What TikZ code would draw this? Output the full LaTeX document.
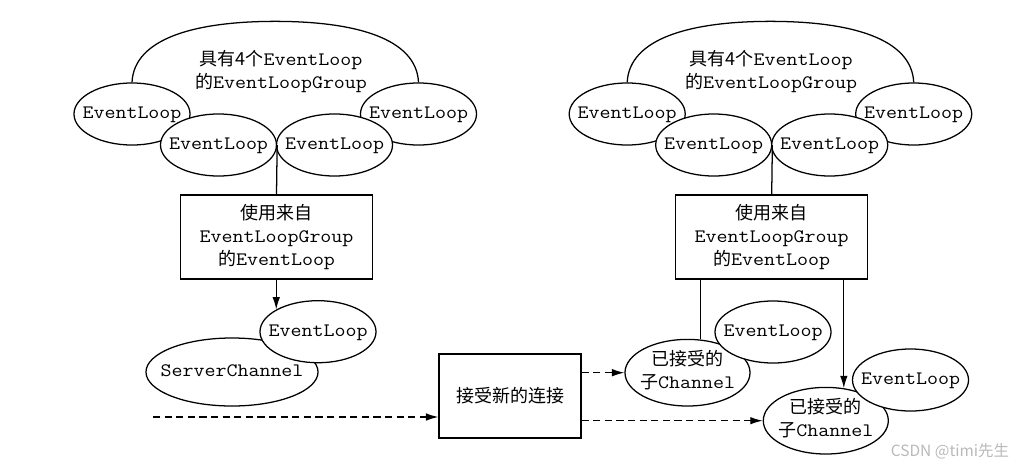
\documentclass[tikz,border=0pt]{standalone}
\usepackage{fontspec}
\newfontfamily\cjk{Noto Sans CJK SC}
\newfontfamily\elmono[FakeStretch=1.125]{Latin Modern Mono}
\usetikzlibrary{positioning,arrows.meta,calc,shapes.geometric}
\newcommand{\zh}[1]{{\cjk\fontsize{12.8}{16.4}\selectfont #1}}
\newcommand{\ctr}[1]{\makebox[0pt]{\begin{tabular}{@{}c@{}}#1\end{tabular}}}

\begin{document}
\begin{tikzpicture}[
                x=0.025cm, y=-0.025cm,
                every node/.style={font=\elmono\fontsize{13.5}{16.4}\selectfont, inner sep=0pt},
                evloop/.style={
                    ellipse,
                    draw,
                    fill=white,
                    line width=0.9pt,
                    minimum width=2.9cm,
                    minimum height=1.55cm
                },
                chan/.style={evloop, minimum width=3.125cm, minimum height=1.665cm},
                box/.style={
                    draw,
                    line width=0.9pt,
                    minimum width=4.8cm,
                    minimum height=2.1cm,
                    align=center
                },
                line/.style={line width=0.9pt},
                arrow/.style={-{Latex[length=3.1mm,width=1.9mm]}, line width=0.9pt},
                dasharrow/.style={arrow, dash pattern=on 1.8mm off 1.1mm}
            ]
                \useasboundingbox (0,0) rectangle (1023,467);

                % left side
                \node[evloop] (l1) at (132,114) {\ctr{EventLoop}};
                \node[evloop] (l4) at (418.5,114) {\ctr{EventLoop}};
                \node[evloop] (l2) at (218.5,145) {\ctr{EventLoop}};
                \node[evloop] (l3) at (334.5,145) {\ctr{EventLoop}};
                \draw[line] (l1.north) .. controls +(2,-44) and +(-80,0) .. ($(l1.north)!0.5!(l4.north)+(0,-61)$)
                    .. controls +(80,0) and +(-2,-44) .. (l4.north);
                \node[align=center] (lgrp) at (281,72) {\zh{具有4个}EventLoop\\\zh{的}EventLoopGroup};
                \node[box] (lbox) at (276.5,237) {\zh{使用来自}\\EventLoopGroup\\\zh{的}EventLoop};
                \node[chan, minimum width=4.3cm, minimum height=1.7cm] (srv) at (232,372) {\ctr{ServerChannel}};
                \node[evloop] (l5) at (318,331.7) {\ctr{EventLoop}};

                % middle
                \node[box, minimum width=3.55cm] (acc) at (510,396) {\zh{接受新的连接}};
                \coordinate (src) at (153,417);

                % right side
                \node[evloop] (r1) at (627.2,114) {\ctr{EventLoop}};
                \node[evloop] (r4) at (913.7,114) {\ctr{EventLoop}};
                \node[evloop] (r2) at (713.7,145) {\ctr{EventLoop}};
                \node[evloop] (r3) at (829.7,145) {\ctr{EventLoop}};
                \draw[line] (r1.north) .. controls +(2,-44) and +(-80,0) .. ($(r1.north)!0.5!(r4.north)+(0,-61)$)
                    .. controls +(80,0) and +(-2,-44) .. (r4.north);
                \node[align=center] (rgrp) at (771,72) {\zh{具有4个}EventLoop\\\zh{的}EventLoopGroup};
                \node[box] (rbox) at (771.7,237) {\zh{使用来自}\\EventLoopGroup\\\zh{的}EventLoop};
                \node[chan] (ch1) at (687.5,372.7) {\ctr{\zh{已接受的}\\\zh{子}Channel}};
                \node[evloop] (r5) at (773,332) {\ctr{EventLoop}};
                \node[chan] (ch2) at (825.8,420.7) {\ctr{\zh{已接受的}\\\zh{子}Channel}};
                \node[evloop] (r6) at (910.5,380) {\ctr{EventLoop}};

                \node[font=\cjk\fontsize{11}{13}\selectfont, text=gray!55] (wm) at (950,451) {CSDN @timi先生};

                \draw[line] (lbox.north) -- (l2.east);
                \draw[arrow] (l5.152 |- lbox.south) -- (l5.152);
                \draw[line] (rbox.north) -- (r2.east);
                \draw[line] (ch1.69 |- rbox.south) -- (ch1.69);
                \draw[arrow] (ch2.61 |- rbox.south) -- (ch2.61);
                \draw[dasharrow] (src) -- (src -| acc.west);
                \draw[dasharrow] (acc.east |- ch1.west) -- (ch1.west);
                \draw[dasharrow] (acc.east |- ch2.west) -- (ch2.west);
            \end{tikzpicture}
\end{document}
